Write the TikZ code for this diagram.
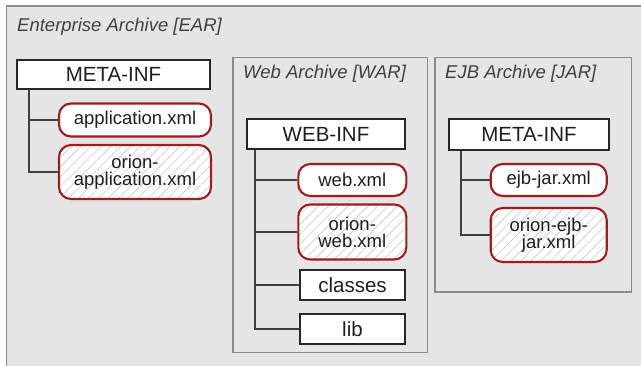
\documentclass[tikz,border=0pt]{standalone}
\usepackage{fontspec}
\setmainfont{Liberation Sans}
\usetikzlibrary{patterns.meta}
\definecolor{bggray}{HTML}{E5E5E5}
\definecolor{framegray}{HTML}{8A8A8A}
\definecolor{darkred}{HTML}{A01C20}
\definecolor{txt}{HTML}{1E1E1E}
\tikzset{
  container/.style={draw=framegray, line width=1.8pt, fill=bggray},
  title/.style={anchor=west, inner sep=0pt, font=\fontsize{18.5}{20}\selectfont\itshape, text=txt!85},
  folder/.style={draw=black!85, line width=1.3pt, fill=white, inner sep=0pt,
    font=\fontsize{20.5}{22}\selectfont, text=txt},
  xmlfile/.style={draw=darkred, line width=2.1pt, fill=white, rounded corners=12pt, inner sep=0pt,
    font=\fontsize{18.5}{20}\selectfont, text=txt, align=center},
  hatched/.style={xmlfile, fill=none, preaction={fill=white},
    pattern={Lines[angle=45,distance=7pt,line width=0.6pt]}, pattern color=black!22},
  treeline/.style={draw=black!75, line width=2pt}
}
\begin{document}
\begin{tikzpicture}[x=1pt,y=-1pt]
\useasboundingbox (0,0) rectangle (641,366);
\fill[white] (0,0) rectangle (641,366);
% outer EAR container
\draw[container] (6.5,372) -- (6.5,6) -- (648,6);
\fill[bggray] (7.4,6.9) rectangle (641,366);
\node[title] (eart) at (17,27) {Enterprise Archive [EAR]};

% EAR content
\node[folder, minimum width=193pt, minimum height=29pt] (meta1) at (113.5,74.5) {META-INF};
\node[xmlfile, minimum width=152pt, minimum height=33pt] (appxml) at (135,120) {application.xml};
\node[hatched, minimum width=152pt, minimum height=54pt, text width=140pt] (orionapp) at (135,172) {orion-\\[-3pt]application.xml};
\coordinate (t1) at ([xshift=13pt]meta1.south west);
\draw[treeline] (t1) |- (orionapp.west);
\draw[treeline] (appxml.west) -- (appxml.west -| t1);

% WAR container
\draw[container] (233,57.5) rectangle (427.5,352.5);
\node[title] (wart) at (243,73.5) {Web Archive [WAR]};
\node[folder, minimum width=158pt, minimum height=30pt] (webinf) at (326,134) {WEB-INF};
\node[xmlfile, minimum width=108pt, minimum height=32pt] (webxml) at (352.3,180) {web.xml};
\node[hatched, minimum width=108pt, minimum height=55pt, text width=100pt] (orionweb) at (352.3,232) {orion-\\[-3pt]web.xml};
\node[folder, minimum width=105pt, minimum height=30pt] (classes) at (352.5,285) {classes};
\node[folder, minimum width=105pt, minimum height=30pt] (lib) at (352.5,329) {lib};
\coordinate (t2) at ([xshift=9pt]webinf.south west);
\draw[treeline] (t2) |- (lib.west);
\draw[treeline] (webxml.west) -- (webxml.west -| t2);
\draw[treeline] (orionweb.west) -- (orionweb.west -| t2);
\draw[treeline] (classes.west) -- (classes.west -| t2);

% JAR container
\draw[container] (435,57.5) rectangle (631.5,292);
\node[title] (jart) at (445,73.5) {EJB Archive [JAR]};
\node[folder, minimum width=160pt, minimum height=31pt] (meta2) at (529,134.5) {META-INF};
\node[xmlfile, minimum width=116pt, minimum height=32pt] (ejbxml) at (548.7,180) {ejb-jar.xml};
\node[hatched, minimum width=116pt, minimum height=54pt, text width=108pt] (orionejb) at (548.7,235) {orion-ejb-\\[-3pt]jar.xml};
\coordinate (t3) at ([xshift=13pt]meta2.south west);
\draw[treeline] (t3) |- (orionejb.west);
\draw[treeline] (ejbxml.west) -- (ejbxml.west -| t3);
\end{tikzpicture}
\end{document}
